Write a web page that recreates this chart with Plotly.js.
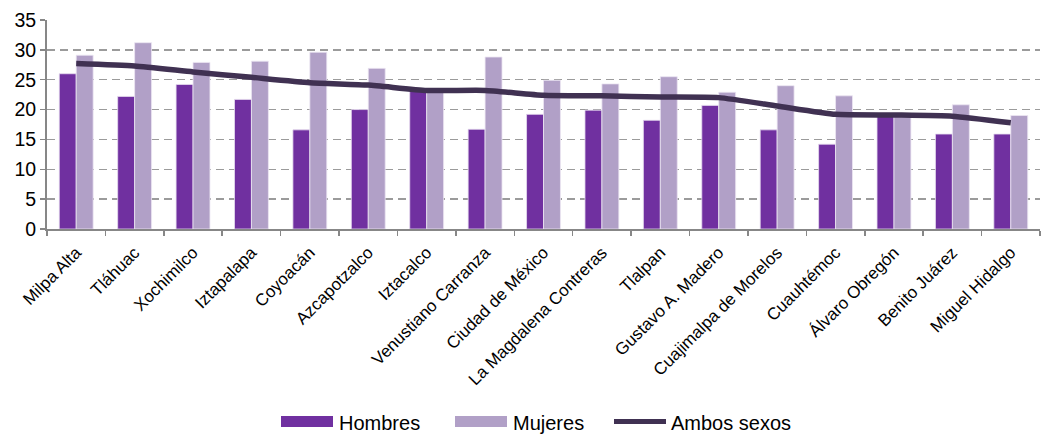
<!DOCTYPE html>
<html>
<head>
<meta charset="utf-8">
<script src="https://cdn.plot.ly/plotly-3.0.1.min.js"></script>
<style>
  html, body { margin: 0; padding: 0; background: #ffffff; }
  #chart { width: 1044px; height: 435px; }
</style>
</head>
<body>
<div id="chart"></div>
<script>
// Alcaldías de la Ciudad de México
const categories = [
  "Milpa Alta", "Tláhuac", "Xochimilco", "Iztapalapa", "Coyoacán",
  "Azcapotzalco", "Iztacalco", "Venustiano Carranza", "Ciudad de México",
  "La Magdalena Contreras", "Tlalpan", "Gustavo A. Madero",
  "Cuajimalpa de Morelos", "Cuauhtémoc", "Álvaro Obregón",
  "Benito Juárez", "Miguel Hidalgo"
];

const hombres = [26.0, 22.2, 24.2, 21.7, 16.6, 20.0, 23.3, 16.7, 19.2,
                 19.9, 18.2, 20.7, 16.6, 14.2, 19.3, 15.9, 15.9];

const mujeres = [29.1, 31.2, 27.9, 28.1, 29.6, 26.9, 23.1, 28.8, 24.9,
                 24.3, 25.5, 22.9, 24.0, 22.3, 19.2, 20.8, 19.0];

const ambosSexos = [27.7, 27.3, 26.3, 25.4, 24.5, 24.1, 23.2, 23.2, 22.4,
                    22.3, 22.1, 22.0, 20.6, 19.2, 19.1, 18.9, 17.8];

const yTicks = [0, 5, 10, 15, 20, 25, 30, 35];

const seriesNames = ["Hombres", "Mujeres", "Ambos sexos"];
const seriesColors = ["#7030A0", "#B1A0C7", "#403152"];

// Chart geometry (pixels)
const W = 1044, H = 435;
const M = { l: 47, r: 4, t: 20, b: 206 };
const plotW = W - M.l - M.r, plotH = H - M.t - M.b;
const px = x => (x - M.l) / plotW;          // page x -> paper x
const py = y => (H - M.b - y) / plotH;      // page y -> paper y

const traces = [
  {
    type: "bar", name: seriesNames[0], x: categories, y: hombres,
    marker: { color: seriesColors[0], line: { color: "#e6dcef", width: 0.8 } }
  },
  {
    type: "bar", name: seriesNames[1], x: categories, y: mujeres,
    marker: { color: seriesColors[1], line: { color: "#ece6f2", width: 0.8 } }
  },
  {
    type: "scatter", mode: "lines", name: seriesNames[2], x: categories, y: ambosSexos,
    line: { color: seriesColors[2], width: 5.5, shape: "spline", smoothing: 0.5 }
  }
];

// Legend drawn below the plot: wide swatches followed by labels
const legendItems = [
  { kind: "rect", x0: 281, x1: 333, tx: 337 },
  { kind: "rect", x0: 455, x1: 507, tx: 511 },
  { kind: "line", x0: 614, x1: 666, tx: 669 }
];
const legendY = 421.5;

const shapes = legendItems.map((it, i) => it.kind === "rect"
  ? { type: "rect", xref: "paper", yref: "paper",
      x0: px(it.x0), x1: px(it.x1), y0: py(legendY - 5.5), y1: py(legendY + 5.5),
      fillcolor: seriesColors[i], line: { width: 0 } }
  : { type: "line", xref: "paper", yref: "paper",
      x0: px(it.x0), x1: px(it.x1), y0: py(legendY), y1: py(legendY),
      line: { color: seriesColors[i], width: 5 } });

const annotations = legendItems.map((it, i) => ({
  xref: "paper", yref: "paper", x: px(it.tx), y: py(legendY + 1),
  xanchor: "left", yanchor: "middle", showarrow: false,
  text: seriesNames[i], font: { size: 20, color: "#000000" }
}));

const layout = {
  width: W, height: H,
  margin: M,
  paper_bgcolor: "#ffffff", plot_bgcolor: "#ffffff",
  font: { family: "Liberation Sans, Arial, sans-serif", color: "#000000" },
  barmode: "group",
  bargap: 0.42,
  bargroupgap: 0,
  showlegend: false,
  shapes: shapes,
  annotations: annotations,
  xaxis: {
    type: "category",
    tickangle: -45,
    tickfont: { size: 17 },
    ticklabelstandoff: 5,
    showline: true, linecolor: "#878787", linewidth: 2,
    ticks: "outside", tickson: "boundaries", ticklen: 5, tickcolor: "#878787", tickwidth: 1.5,
    showgrid: false, automargin: false
  },
  yaxis: {
    range: [0, 35],
    tickvals: yTicks,
    ticktext: yTicks.map(String),
    tickfont: { size: 19.5 },
    showline: true, linecolor: "#878787", linewidth: 2,
    ticks: "outside", ticklen: 5, tickcolor: "#878787", tickwidth: 1.5,
    showgrid: true, gridcolor: "#9b9b9b", gridwidth: 1.5, griddash: "8px,5px",
    zeroline: false, automargin: false
  }
};

Plotly.newPlot("chart", traces, layout, { staticPlot: true, displayModeBar: false });
</script>
</body>
</html>
